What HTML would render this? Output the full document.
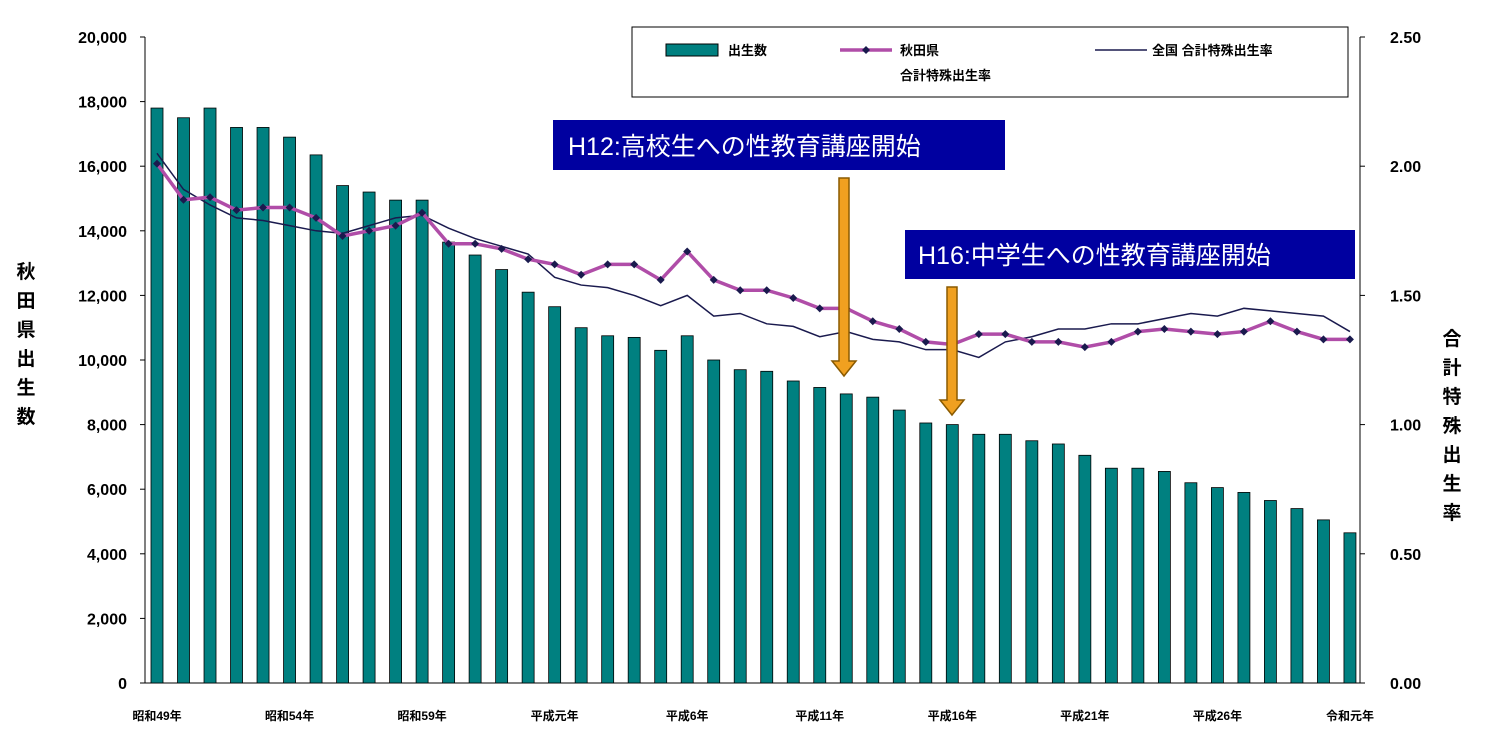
<!DOCTYPE html>
<html><head><meta charset="utf-8"><style>
body{margin:0;background:#fff;}
svg{display:block;font-family:"Liberation Sans","Noto Sans CJK JP",sans-serif;}
</style></head><body>
<svg id="c" width="1500" height="745" xmlns="http://www.w3.org/2000/svg"></svg>
<script>
const bars=[17800,17500,17800,17200,17200,16900,16350,15400,15200,14950,14950,13650,13250,12800,12100,11650,11000,10750,10700,10300,10750,10000,9700,9650,9350,9150,8950,8850,8450,8050,8000,7700,7700,7500,7400,7050,6650,6650,6550,6200,6050,5900,5650,5400,5050,4650];
const ak=[2.01,1.87,1.88,1.83,1.84,1.84,1.80,1.73,1.75,1.77,1.82,1.70,1.70,1.68,1.64,1.62,1.58,1.62,1.62,1.56,1.67,1.56,1.52,1.52,1.49,1.45,1.45,1.40,1.37,1.32,1.31,1.35,1.35,1.32,1.32,1.30,1.32,1.36,1.37,1.36,1.35,1.36,1.40,1.36,1.33,1.33];
const na=[2.05,1.91,1.85,1.80,1.79,1.77,1.75,1.74,1.77,1.80,1.81,1.76,1.72,1.69,1.66,1.57,1.54,1.53,1.50,1.46,1.50,1.42,1.43,1.39,1.38,1.34,1.36,1.33,1.32,1.29,1.29,1.26,1.32,1.34,1.37,1.37,1.39,1.39,1.41,1.43,1.42,1.45,1.44,1.43,1.42,1.36];
const X0=145,X1=1360,Y0=37,Y1=683;
const xi=i=>157+i*26.51;
const yb=v=>Y1-v/20000*(Y1-Y0);
const yr=v=>Y1-v/2.5*(Y1-Y0);
let s='';
s+=`<line x1="${X0}" y1="${Y0}" x2="${X0}" y2="${Y1}" stroke="#000"/>`;
s+=`<line x1="${X1}" y1="${Y0}" x2="${X1}" y2="${Y1}" stroke="#000"/>`;
s+=`<line x1="${X0}" y1="${Y1}" x2="${X1}" y2="${Y1}" stroke="#000"/>`;
for(let v=0;v<=20000;v+=2000){const y=yb(v);s+=`<line x1="${X0-5}" y1="${y}" x2="${X0}" y2="${y}" stroke="#000"/><text x="${X0-18}" y="${y+6}" text-anchor="end" font-size="16" font-weight="bold">${v.toLocaleString('en-US')}</text>`;}
for(let k=0;k<=5;k++){const v=k*0.5,y=yr(v);s+=`<line x1="${X1}" y1="${y}" x2="${X1+5}" y2="${y}" stroke="#000"/><text x="${X1+30}" y="${y+6}" font-size="16" font-weight="bold">${v.toFixed(2)}</text>`;}
bars.forEach((v,i)=>{s+=`<rect x="${xi(i)-6}" y="${yb(v)}" width="12" height="${Y1-yb(v)}" fill="#008080" stroke="#000" stroke-width="0.8"/>`;});
const labs=['昭和49年','昭和54年','昭和59年','平成元年','平成6年','平成11年','平成16年','平成21年','平成26年','令和元年'];
labs.forEach((l,k)=>{s+=`<text x="${xi(k*5)}" y="720" text-anchor="middle" font-size="12" font-weight="bold">${l}</text>`;});
s+=`<polyline fill="none" stroke="#1a1a4e" stroke-width="1.5" points="${na.map((v,i)=>xi(i)+','+yr(v)).join(' ')}"/>`;
s+=`<polyline fill="none" stroke="#b04da8" stroke-width="3.5" points="${ak.map((v,i)=>xi(i)+','+yr(v)).join(' ')}"/>`;
ak.forEach((v,i)=>{const x=xi(i),y=yr(v);s+=`<polygon points="${x},${y-4} ${x+4},${y} ${x},${y+4} ${x-4},${y}" fill="#1a1a4e"/>`;});
'秋田県出生数'.split('').forEach((c,i)=>{s+=`<text x="26" y="${278+i*29}" text-anchor="middle" font-size="19" font-weight="bold">${c}</text>`;});
'合計特殊出生率'.split('').forEach((c,i)=>{s+=`<text x="1452" y="${345+i*29}" text-anchor="middle" font-size="19" font-weight="bold">${c}</text>`;});
s+=`<rect x="632" y="27" width="716" height="70" fill="#fff" stroke="#000"/>`;
s+=`<rect x="666" y="44" width="52" height="12" fill="#008080" stroke="#000"/><text x="728" y="55" font-size="13" font-weight="bold">出生数</text>`;
s+=`<line x1="840" y1="50" x2="892" y2="50" stroke="#b04da8" stroke-width="3.5"/><polygon points="866,46 870,50 866,54 862,50" fill="#1a1a4e"/><text x="900" y="55" font-size="13" font-weight="bold">秋田県</text><text x="900" y="80" font-size="13" font-weight="bold">合計特殊出生率</text>`;
s+=`<line x1="1095" y1="50" x2="1147" y2="50" stroke="#1a1a4e" stroke-width="1.5"/><text x="1152" y="55" font-size="13" font-weight="bold">全国  合計特殊出生率</text>`;
s+=`<rect x="553" y="120" width="452" height="50" fill="#0000a0"/><text x="568" y="155" font-size="25" fill="#fff">H12:高校生への性教育講座開始</text>`;
s+=`<rect x="905" y="230" width="450" height="49" fill="#0000a0"/><text x="918" y="264" font-size="25" fill="#fff">H16:中学生への性教育講座開始</text>`;
function arrow(x,y1,y2){return `<polygon points="${x-5},${y1} ${x+5},${y1} ${x+5},${y2-15} ${x+12},${y2-15} ${x},${y2} ${x-12},${y2-15} ${x-5},${y2-15}" fill="#f0a020" stroke="#8a5a00" stroke-width="1.5"/>`;}
s+=arrow(844,178,376);
s+=arrow(952,287,415);
document.getElementById('c').innerHTML=s;
</script>
</body></html>
